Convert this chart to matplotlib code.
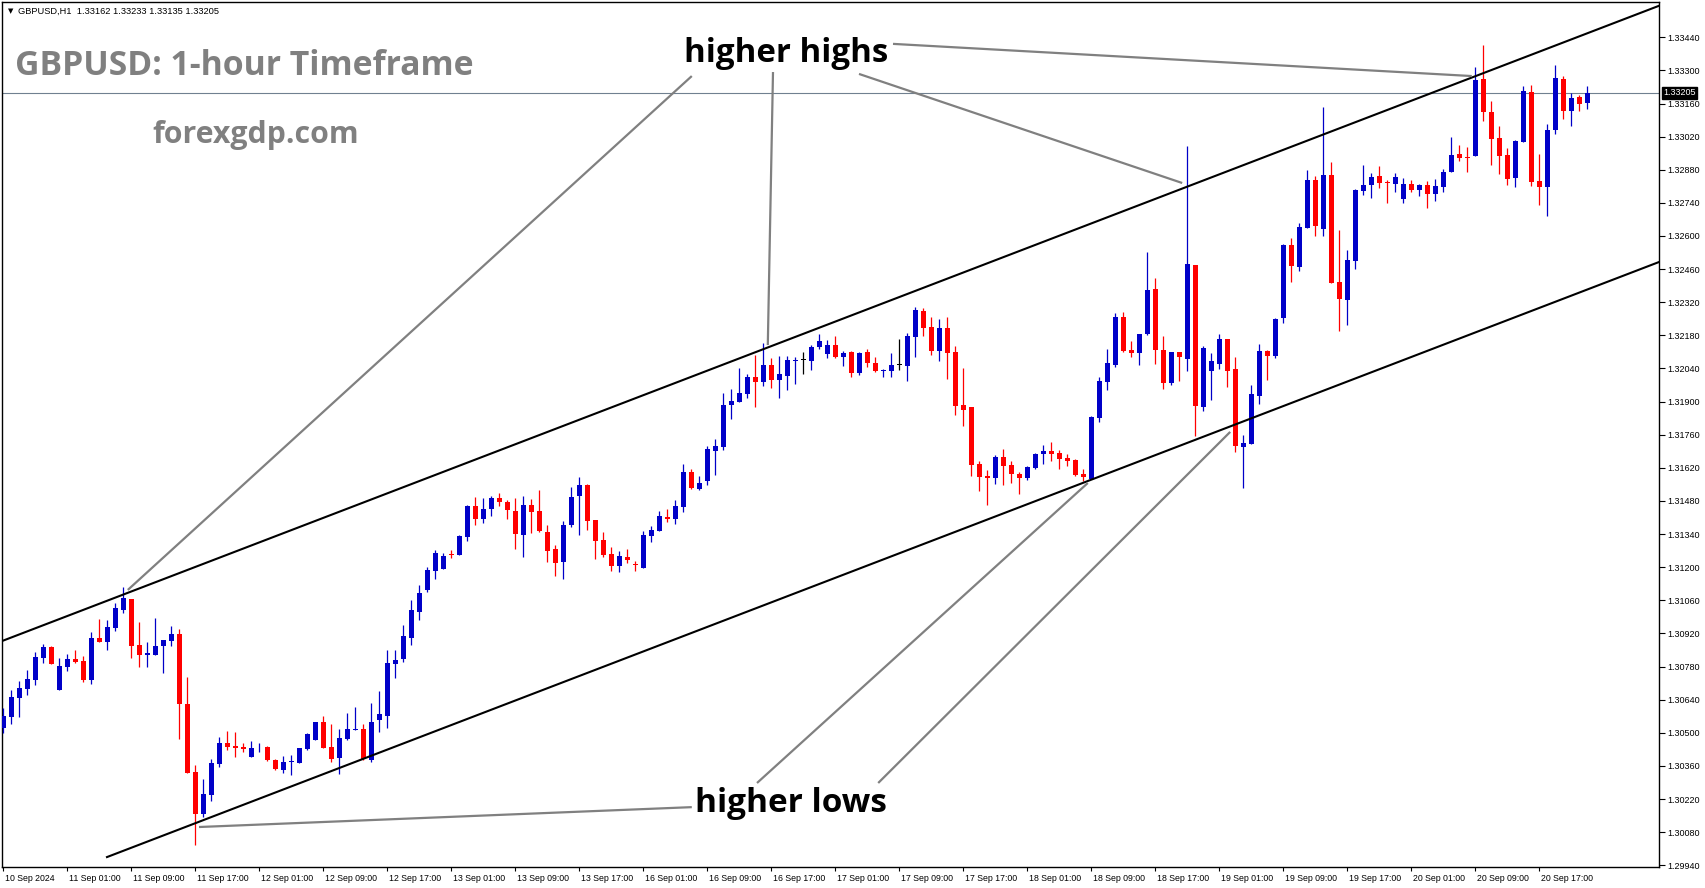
import numpy as np
import pandas as pd
import matplotlib
matplotlib.use('Agg')
import matplotlib.pyplot as plt
from matplotlib import transforms

# GBPUSD H1, 10 Sep 17:00 -> 20 Sep 23:00 (199 bars)
opens = [
    1.30520, 1.30569, 1.30649, 1.30686, 1.30724, 1.30818, 1.30863, 1.30679, 1.30780, 1.30813,
    1.30804, 1.30724, 1.30901, 1.30886, 1.30944, 1.31020, 1.31066, 1.30872, 1.30827, 1.30831,
    1.30865, 1.30890, 1.30918, 1.30622, 1.30335, 1.30155, 1.30239, 1.30370, 1.30458, 1.30445,
    1.30441, 1.30396, 1.30434, 1.30441, 1.30386, 1.30343, 1.30376, 1.30374, 1.30432, 1.30470,
    1.30546, 1.30441, 1.30394, 1.30474, 1.30512, 1.30517, 1.30386, 1.30555, 1.30572, 1.30791,
    1.30812, 1.30901, 1.31011, 1.31104, 1.31185, 1.31194, 1.31256, 1.31253, 1.31329, 1.31459,
    1.31405, 1.31445, 1.31492, 1.31475, 1.31437, 1.31337, 1.31463, 1.31437, 1.31349, 1.31277,
    1.31223, 1.31380, 1.31502, 1.31547, 1.31399, 1.31315, 1.31256, 1.31206, 1.31243, 1.31213,
    1.31198, 1.31333, 1.31354, 1.31412, 1.31405, 1.31456, 1.31603, 1.31531, 1.31565, 1.31691,
    1.31708, 1.31886, 1.31899, 1.31932, 1.32004, 1.31983, 1.32055, 1.31992, 1.32008, 1.32073,
    1.32075, 1.32073, 1.32131, 1.32101, 1.32140, 1.32090, 1.32110, 1.32023, 1.32110, 1.32063,
    1.32031, 1.32031, 1.32054, 1.32052, 1.32175, 1.32283, 1.32215, 1.32115, 1.32211, 1.32109,
    1.31885, 1.31877, 1.31636, 1.31585, 1.31578, 1.31666, 1.31632, 1.31594, 1.31578, 1.31620,
    1.31680, 1.31691, 1.31683, 1.31661, 1.31653, 1.31594, 1.31575, 1.31832, 1.31984, 1.32054,
    1.32257, 1.32118, 1.32107, 1.32185, 1.32376, 1.32118, 1.31978, 1.32110, 1.32082, 1.32477,
    1.31879, 1.32031, 1.32057, 1.32165, 1.32038, 1.31710, 1.31722, 1.31925, 1.32114, 1.32094,
    1.32255, 1.32562, 1.32470, 1.32635, 1.32837, 1.32631, 1.32858, 1.32406, 1.32331, 1.32496,
    1.32792, 1.32816, 1.32854, 1.32829, 1.32820, 1.32758, 1.32820, 1.32796, 1.32816, 1.32779,
    1.32809, 1.32870, 1.32947, 1.32934, 1.32940, 1.33264, 1.33125, 1.33015, 1.32943, 1.32847,
    1.32999, 1.33209, 1.32833, 1.32809, 1.33048, 1.33264, 1.33130, 1.33188, 1.33162,
]
highs = [
    1.30604, 1.30682, 1.30720, 1.30766, 1.30841, 1.30876, 1.30868, 1.30815, 1.30834, 1.30851,
    1.30825, 1.30928, 1.30982, 1.30977, 1.31048, 1.31118, 1.31066, 1.30969, 1.30884, 1.30986,
    1.30893, 1.30952, 1.30939, 1.30736, 1.30365, 1.30305, 1.30390, 1.30483, 1.30508, 1.30504,
    1.30458, 1.30466, 1.30459, 1.30445, 1.30390, 1.30403, 1.30407, 1.30436, 1.30498, 1.30546,
    1.30572, 1.30538, 1.30517, 1.30584, 1.30610, 1.30538, 1.30627, 1.30677, 1.30851, 1.30851,
    1.30956, 1.31061, 1.31125, 1.31201, 1.31273, 1.31260, 1.31273, 1.31336, 1.31463, 1.31497,
    1.31492, 1.31501, 1.31514, 1.31484, 1.31492, 1.31501, 1.31488, 1.31526, 1.31378, 1.31294,
    1.31395, 1.31539, 1.31581, 1.31552, 1.31399, 1.31349, 1.31285, 1.31270, 1.31277, 1.31228,
    1.31353, 1.31374, 1.31437, 1.31446, 1.31484, 1.31637, 1.31615, 1.31586, 1.31714, 1.31742,
    1.31937, 1.31954, 1.32042, 1.32017, 1.32097, 1.32148, 1.32085, 1.32093, 1.32093, 1.32089,
    1.32110, 1.32140, 1.32186, 1.32161, 1.32178, 1.32114, 1.32114, 1.32110, 1.32123, 1.32089,
    1.32038, 1.32106, 1.32165, 1.32190, 1.32300, 1.32296, 1.32257, 1.32249, 1.32257, 1.32135,
    1.32042, 1.31877, 1.31649, 1.31611, 1.31674, 1.31699, 1.31649, 1.31604, 1.31629, 1.31684,
    1.31718, 1.31729, 1.31695, 1.31680, 1.31657, 1.31615, 1.31839, 1.32004, 1.32122, 1.32274,
    1.32278, 1.32156, 1.32185, 1.32533, 1.32422, 1.32177, 1.32109, 1.32110, 1.32980, 1.32477,
    1.32135, 1.32107, 1.32186, 1.32165, 1.32089, 1.31759, 1.31970, 1.32143, 1.32118, 1.32253,
    1.32566, 1.32592, 1.32655, 1.32879, 1.32854, 1.33145, 1.32913, 1.32625, 1.32541, 1.32799,
    1.32900, 1.32866, 1.32896, 1.32836, 1.32867, 1.32846, 1.32837, 1.32820, 1.32833, 1.32841,
    1.32884, 1.33019, 1.32985, 1.32977, 1.33315, 1.33408, 1.33171, 1.33065, 1.32972, 1.33006,
    1.33234, 1.33239, 1.32947, 1.33075, 1.33323, 1.33277, 1.33206, 1.33196, 1.33233,
]
lows = [
    1.30498, 1.30538, 1.30569, 1.30660, 1.30703, 1.30797, 1.30793, 1.30679, 1.30762, 1.30797,
    1.30715, 1.30707, 1.30882, 1.30851, 1.30932, 1.31008, 1.30818, 1.30780, 1.30780, 1.30831,
    1.30751, 1.30865, 1.30472, 1.30329, 1.30024, 1.30146, 1.30210, 1.30357, 1.30429, 1.30396,
    1.30417, 1.30396, 1.30417, 1.30381, 1.30343, 1.30331, 1.30322, 1.30374, 1.30428, 1.30470,
    1.30434, 1.30377, 1.30328, 1.30470, 1.30510, 1.30386, 1.30377, 1.30504, 1.30521, 1.30732,
    1.30799, 1.30871, 1.30977, 1.31096, 1.31151, 1.31194, 1.31240, 1.31253, 1.31312, 1.31380,
    1.31385, 1.31418, 1.31460, 1.31405, 1.31278, 1.31244, 1.31346, 1.31350, 1.31223, 1.31164,
    1.31151, 1.31371, 1.31337, 1.31359, 1.31236, 1.31244, 1.31185, 1.31181, 1.31219, 1.31185,
    1.31198, 1.31308, 1.31354, 1.31392, 1.31384, 1.31435, 1.31531, 1.31527, 1.31548, 1.31590,
    1.31696, 1.31827, 1.31899, 1.31916, 1.31877, 1.31966, 1.31958, 1.31916, 1.31949, 1.31975,
    1.32017, 1.32034, 1.32123, 1.32085, 1.32085, 1.32051, 1.32004, 1.32014, 1.32048, 1.32027,
    1.32006, 1.32006, 1.32035, 1.31989, 1.32090, 1.32179, 1.32098, 1.32073, 1.31997, 1.31845,
    1.31798, 1.31587, 1.31523, 1.31464, 1.31553, 1.31549, 1.31557, 1.31511, 1.31570, 1.31616,
    1.31637, 1.31650, 1.31616, 1.31629, 1.31587, 1.31566, 1.31575, 1.31815, 1.31950, 1.32047,
    1.32111, 1.32090, 1.32056, 1.32181, 1.32060, 1.31954, 1.31970, 1.31987, 1.32031, 1.31756,
    1.31862, 1.31908, 1.32039, 1.31963, 1.31688, 1.31536, 1.31722, 1.31891, 1.31990, 1.32086,
    1.32234, 1.32407, 1.32453, 1.32635, 1.32601, 1.32601, 1.32403, 1.32200, 1.32225, 1.32462,
    1.32773, 1.32762, 1.32804, 1.32741, 1.32788, 1.32741, 1.32784, 1.32767, 1.32720, 1.32746,
    1.32788, 1.32870, 1.32915, 1.32872, 1.32940, 1.33088, 1.32902, 1.32860, 1.32817, 1.32809,
    1.32999, 1.32813, 1.32733, 1.32686, 1.33029, 1.33096, 1.33067, 1.33130, 1.33135,
]
closes = [
    1.30572, 1.30653, 1.30691, 1.30728, 1.30820, 1.30862, 1.30793, 1.30783, 1.30813, 1.30801,
    1.30724, 1.30901, 1.30884, 1.30948, 1.31028, 1.31072, 1.30868, 1.30829, 1.30838, 1.30868,
    1.30893, 1.30918, 1.30620, 1.30332, 1.30155, 1.30242, 1.30373, 1.30458, 1.30442, 1.30438,
    1.30432, 1.30436, 1.30436, 1.30386, 1.30348, 1.30377, 1.30377, 1.30436, 1.30494, 1.30546,
    1.30438, 1.30390, 1.30479, 1.30517, 1.30517, 1.30390, 1.30546, 1.30580, 1.30796, 1.30808,
    1.30909, 1.31019, 1.31091, 1.31188, 1.31260, 1.31247, 1.31251, 1.31332, 1.31459, 1.31405,
    1.31446, 1.31492, 1.31477, 1.31443, 1.31342, 1.31463, 1.31435, 1.31354, 1.31270, 1.31219,
    1.31378, 1.31497, 1.31547, 1.31397, 1.31312, 1.31253, 1.31206, 1.31247, 1.31232, 1.31211,
    1.31336, 1.31357, 1.31416, 1.31405, 1.31459, 1.31603, 1.31535, 1.31556, 1.31700, 1.31713,
    1.31886, 1.31903, 1.31937, 1.32004, 1.31983, 1.32055, 1.31992, 1.32017, 1.32076, 1.32076,
    1.32075, 1.32131, 1.32156, 1.32140, 1.32089, 1.32106, 1.32023, 1.32106, 1.32065, 1.32031,
    1.32035, 1.32055, 1.32054, 1.32178, 1.32287, 1.32213, 1.32115, 1.32211, 1.32107, 1.31883,
    1.31866, 1.31633, 1.31582, 1.31578, 1.31666, 1.31629, 1.31595, 1.31578, 1.31625, 1.31680,
    1.31691, 1.31678, 1.31659, 1.31650, 1.31591, 1.31580, 1.31835, 1.31987, 1.32063, 1.32257,
    1.32114, 1.32107, 1.32185, 1.32371, 1.32118, 1.31978, 1.32109, 1.32090, 1.32482, 1.31883,
    1.32127, 1.32072, 1.32165, 1.32031, 1.31714, 1.31724, 1.31932, 1.32114, 1.32094, 1.32249,
    1.32562, 1.32475, 1.32638, 1.32837, 1.32644, 1.32858, 1.32403, 1.32335, 1.32499, 1.32794,
    1.32816, 1.32849, 1.32825, 1.32824, 1.32850, 1.32820, 1.32796, 1.32816, 1.32779, 1.32812,
    1.32871, 1.32943, 1.32931, 1.32931, 1.33260, 1.33126, 1.33012, 1.32940, 1.32843, 1.33002,
    1.33213, 1.32830, 1.32809, 1.33048, 1.33268, 1.33130, 1.33184, 1.33160, 1.33205,
]

trading_days = ['2024-09-11', '2024-09-12', '2024-09-13', '2024-09-16',
                '2024-09-17', '2024-09-18', '2024-09-19', '2024-09-20']
last_price = 1.33205
header = 'GBPUSD,H1  1.33162 1.33233 1.33135 1.33205'

# channel lines drawn on the chart (bar index, price)
upper_channel = ([-0.125, 207], [1.30888, 1.33573])
lower_channel = ([13, 207], [1.29975, 1.32490])

# annotation pointers: (bar, price) from text -> to chart
highs_text = (97.9, 1.33336)
lows_text = (98.5, 1.30165)
highs_pointers = [((86.1, 1.33276), (15.6, 1.31104)),
                  ((96.25, 1.33293), (95.6, 1.32139)),
                  ((107.0, 1.33285), (147.4, 1.32824)),
                  ((111.25, 1.33412), (183.6, 1.33276))]
lows_pointers = [((86.1, 1.30186), (24.5, 1.30102)),
                 ((94.25, 1.30288), (135.6, 1.31556)),
                 ((109.4, 1.30288), (153.4, 1.31772))]

times = pd.date_range('2024-09-10 17:00', '2024-09-10 23:00', freq='h')
for d in trading_days:
    times = times.append(pd.date_range(d, periods=24, freq='h'))

o = np.array(opens); h = np.array(highs); l = np.array(lows); c = np.array(closes)
x = np.arange(len(c))

BLUE = '#0000c8'
RED = '#ff0000'
cols = np.where(c > o, BLUE, np.where(c < o, RED, 'black'))

W, H = 1705, 888
fig = plt.figure(figsize=(W / 100, H / 100), dpi=100)
ax = fig.add_axes([2 / W, 21 / H, 1657 / W, 865 / H])
ax.set_xlim(-0.125, 207)
ax.set_ylim(1.29933, 1.33589)

# candles
ax.vlines(x, l, h, colors=cols, lw=0.9, zorder=3)
body = np.maximum(np.abs(c - o), 0.00003)
ax.bar(x, body, bottom=np.minimum(o, c), width=0.625, color=cols, linewidth=0, zorder=3)

# price line + channel
ax.axhline(last_price, color='#708090', lw=0.8, zorder=1)
ax.plot(*upper_channel, color='black', lw=1.5, zorder=4)
ax.plot(*lower_channel, color='black', lw=1.5, zorder=4)

# annotations
for (x0, y0), (x1, y1) in highs_pointers + lows_pointers:
    ax.plot([x0, x1], [y0, y1], color='#808080', lw=1.6, zorder=5, solid_capstyle='butt')
ax.text(*highs_text, 'higher highs', ha='center', va='baseline', fontsize=23.8,
        fontweight='bold', family='Open Sans', color='black', zorder=6)
ax.text(*lows_text, 'higher lows', ha='center', va='baseline', fontsize=24,
        fontweight='bold', family='Open Sans', color='black', zorder=6)

# axes styling (MT4 look)
for s in ax.spines.values():
    s.set_color('black')
    s.set_linewidth(1)
ax.yaxis.tick_right()
yt = np.round(np.arange(1.29940, 1.33441, 0.0014), 5)
ax.set_yticks(yt)
ax.set_yticklabels([f'{v:.5f}' for v in yt])
ax.tick_params(axis='y', direction='out', length=4, width=0.8, pad=2,
               labelsize=6.5, labelfontfamily='Liberation Sans')

xt = [i for i, t in enumerate(times) if t.hour % 8 == 1]
xl = [times[i].strftime('%d %b %Y') if i == 0 else times[i].strftime('%d %b %H:%M') for i in xt]
ax.set_xticks(xt)
ax.set_xticklabels(xl)
ax.tick_params(axis='x', direction='out', length=3, width=0.8, pad=2,
               labelsize=6.3, labelfontfamily='Liberation Sans')
off = transforms.ScaledTranslation(2 / 100, 0, fig.dpi_scale_trans)
for lab in ax.get_xticklabels():
    lab.set_horizontalalignment('left')
    lab.set_transform(lab.get_transform() + off)

# current price box on the right scale
ax.annotate(f'{last_price:.5f}', xy=(1, last_price),
            xycoords=('axes fraction', 'data'), xytext=(3, 0), textcoords='offset points',
            ha='left', va='center', color='white', fontsize=6.5, family='Liberation Sans',
            bbox=dict(boxstyle='square,pad=0.15', fc='black', ec='black'))

# header and watermark texts
fig.text(8 / W, 1 - 11 / H, '▼', fontsize=5, va='center', ha='left', color='black')
fig.text(18 / W, 1 - 11 / H, header, fontsize=6.7, va='center', ha='left',
         family='Liberation Sans', color='black')
fig.text(15 / W, 1 - 75 / H, 'GBPUSD: 1-hour Timeframe', fontsize=24.3, fontweight='bold',
         family='Open Sans', color='#808080', va='baseline', ha='left')
fig.text(152 / W, 1 - 143 / H, 'forexgdp.com', fontsize=21.8, fontweight='bold',
         family='Open Sans', color='#808080', va='baseline', ha='left')

fig.savefig('out.png', dpi=100, facecolor='white')
